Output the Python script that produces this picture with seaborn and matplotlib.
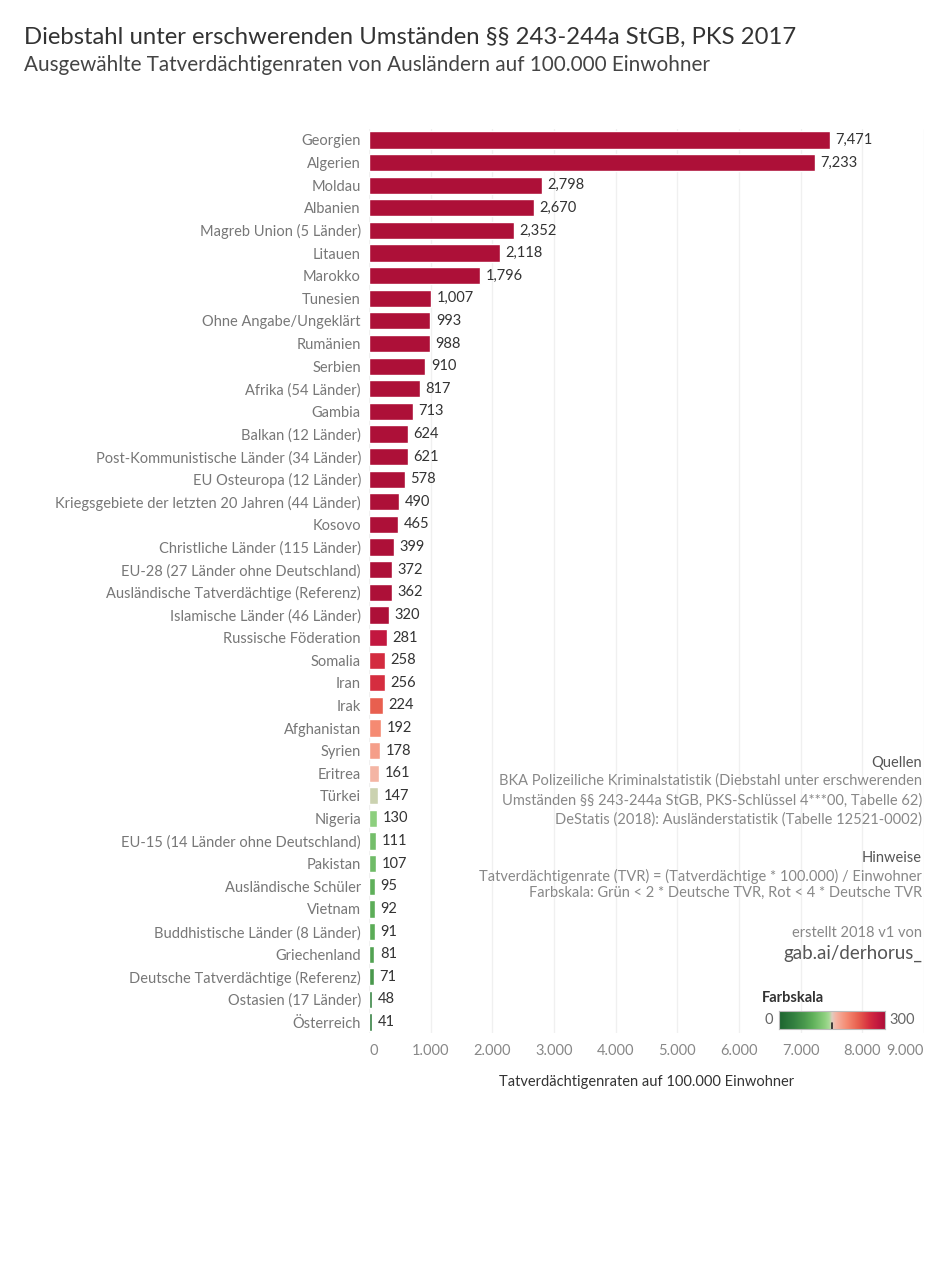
import matplotlib
matplotlib.use("Agg")
import matplotlib.pyplot as plt
import seaborn as sns
import numpy as np
import pandas as pd
from matplotlib.colors import LinearSegmentedColormap, Normalize

categories = [
    "Georgien", "Algerien", "Moldau", "Albanien", "Magreb Union (5 Länder)", "Litauen",
    "Marokko", "Tunesien", "Ohne Angabe/Ungeklärt", "Rumänien", "Serbien",
    "Afrika (54 Länder)", "Gambia", "Balkan (12 Länder)",
    "Post-Kommunistische Länder (34 Länder)", "EU Osteuropa (12 Länder)",
    "Kriegsgebiete der letzten 20 Jahren (44 Länder)", "Kosovo",
    "Christliche Länder (115 Länder)", "EU-28 (27 Länder ohne Deutschland)",
    "Ausländische Tatverdächtige (Referenz)", "Islamische Länder (46 Länder)",
    "Russische Föderation", "Somalia", "Iran", "Irak", "Afghanistan", "Syrien",
    "Eritrea", "Türkei", "Nigeria", "EU-15 (14 Länder ohne Deutschland)", "Pakistan",
    "Ausländische Schüler", "Vietnam", "Buddhistische Länder (8 Länder)",
    "Griechenland", "Deutsche Tatverdächtige (Referenz)", "Ostasien (17 Länder)",
    "Österreich",
]
values = [7471, 7233, 2798, 2670, 2352, 2118, 1796, 1007, 993, 988, 910, 817, 713,
          624, 621, 578, 490, 465, 399, 372, 362, 320, 281, 258, 256, 224, 192, 178,
          161, 147, 130, 111, 107, 95, 92, 91, 81, 71, 48, 41]
x_ticks = [0, 1000, 2000, 3000, 4000, 5000, 6000, 7000, 8000, 9000]
x_tick_labels = ["0", "1.000", "2.000", "3.000", "4.000", "5.000", "6.000", "7.000", "8.000", "9.000"]

sns.set_theme(style="white")
plt.rcParams["font.family"] = ["Lato", "DejaVu Sans"]

# colour scale 0..300 (diverging green -> red)
scale_nodes = [(0, "#1d6430"), (41, "#338040"), (71, "#49984c"), (95, "#5fb05a"),
               (130, "#8ed07f"), (142, "#a6da95"), (150, "#e0cdc0"), (161, "#f4b5a4"),
               (192, "#f58a72"), (224, "#e8604f"), (256, "#d52d3f"), (281, "#c2173f"),
               (300, "#ad1038")]
cmap = LinearSegmentedColormap.from_list("farbskala", [(p / 300, c) for p, c in scale_nodes])
norm = Normalize(0, 300, clip=True)
colors = [cmap(norm(v)) for v in values]

df = pd.DataFrame({"cat": categories, "val": values})

fig = plt.figure(figsize=(9.48, 12.8), dpi=100)
ax = fig.add_axes([0.3895, 0.1927, 0.585, 0.7068])
sns.barplot(data=df, x="val", y="cat", hue="cat", palette=colors, legend=False,
            orient="h", width=0.76, ax=ax, saturation=1)

ax.set_xlim(0, 9000)
ax.set_xticks(x_ticks)
ax.set_xticklabels(x_tick_labels)
for lab in ax.get_xticklabels():
    lab.set_horizontalalignment("center")
ax.get_xticklabels()[-1].set_horizontalalignment("right")
ax.get_xticklabels()[0].set_horizontalalignment("left")
ax.tick_params(axis="x", colors="#888888", labelsize=10.5, length=0, pad=8)
ax.tick_params(axis="y", colors="#777777", labelsize=10.5, length=0, pad=6)
ax.set_ylabel("")
ax.set_xlabel("Tatverdächtigenraten auf 100.000 Einwohner", fontsize=10.5,
              color="#333333", labelpad=12)
ax.grid(axis="x", color="#f0f0f0", linewidth=1)
ax.set_axisbelow(True)
for s in ax.spines.values():
    s.set_visible(False)

for i, v in enumerate(values):
    ax.text(v + 90, i, f"{v:,}", va="center", ha="left", fontsize=10.5, color="#333333")

fig.text(0.025, 0.971, "Diebstahl unter erschwerenden Umständen §§ 243-244a StGB, PKS 2017",
         fontsize=17.2, color="#333333", va="center")
fig.text(0.025, 0.949, "Ausgewählte Tatverdächtigenraten von Ausländern auf 100.000 Einwohner",
         fontsize=14.9, color="#444444", va="center")

xr = 922 / 948
def ft(ypx, s, **kw):
    fig.text(xr, 1 - ypx / 1280, s, ha="right", va="center", **kw)

ft(763, "Quellen", fontsize=10.5, color="#555555")
ft(781, "BKA Polizeiliche Kriminalstatistik (Diebstahl unter erschwerenden", fontsize=10.5, color="#888888")
ft(801, "Umständen §§ 243-244a StGB, PKS-Schlüssel 4***00, Tabelle 62)", fontsize=10.5, color="#888888")
ft(820, "DeStatis (2018): Ausländerstatistik (Tabelle 12521-0002)", fontsize=10.5, color="#888888")
ft(858, "Hinweise", fontsize=10.5, color="#555555")
ft(876, "Tatverdächtigenrate (TVR) = (Tatverdächtige * 100.000) / Einwohner", fontsize=10.5, color="#888888")
ft(893, "Farbskala: Grün < 2 * Deutsche TVR, Rot < 4 * Deutsche TVR", fontsize=10.5, color="#888888")
ft(933, "erstellt 2018 v1 von", fontsize=10.5, color="#888888")
ft(953, "gab.ai/derhorus_", fontsize=13.5, color="#555555")

# colour legend
fig.text(762 / 948, 1 - 998 / 1280, "Farbskala", fontsize=10.5, color="#333333",
         fontweight="bold", ha="left", va="center")
cax = fig.add_axes([779 / 948, 1 - 1029 / 1280, 106 / 948, 18 / 1280])
cax.imshow(np.linspace(0, 1, 256)[None, :], aspect="auto", cmap=cmap)
cax.set_xticks([]); cax.set_yticks([])
cax.set_xlim(-0.5, 255.5)
for s in cax.spines.values():
    s.set_color("#bbbbbb"); s.set_linewidth(0.8)
cax.plot([127.5, 127.5], [0.5, 0.15], color="#222222", linewidth=1.2, clip_on=False)
fig.text(773 / 948, 1 - 1020 / 1280, "0", fontsize=10.5, color="#666666", ha="right", va="center")
fig.text(889 / 948, 1 - 1020 / 1280, "300", fontsize=10.5, color="#666666", ha="left", va="center")

fig.savefig("out.png", dpi=100, facecolor="white")
